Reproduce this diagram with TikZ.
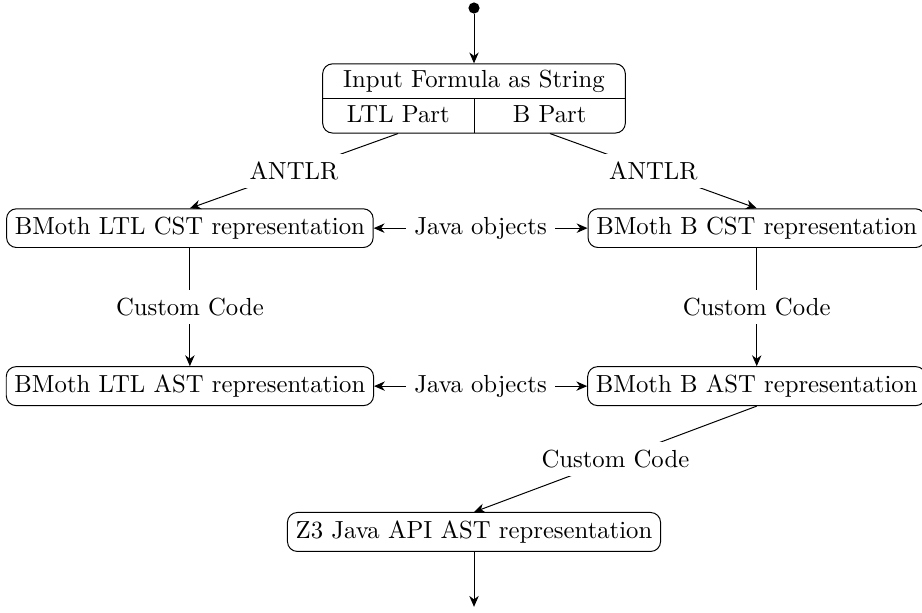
\documentclass[tikz,border=0pt]{standalone}
\usepackage{tikz}
\usetikzlibrary{arrows.meta,shapes,positioning}

\begin{document}
\begin{tikzpicture}[node distance=1.5cm,>={Stealth[length=4.4pt,width=3.8pt,inset=1.4pt]}]
  \tikzstyle{repr}=[rectangle,rounded corners,draw=black]
  \tikzstyle{conv}=[fill=white]

  \useasboundingbox (-6.74,0.114) rectangle (6.37,-8.59);

  % Entry point and input.
  \node [circle,fill=black,inner sep=1.6pt] (start) {};
  \node [repr,inner sep=0pt] (input) [below=0.70cm of start]
    {\renewcommand{\arraystretch}{1.15}%
     \begin{tabular}{c|c}
       \multicolumn{2}{c}{Input Formula as String}\\ \hline
       \makebox[1.73cm]{LTL Part} & \makebox[1.73cm]{B Part}
     \end{tabular}};
  \coordinate (ltlpart) at ([xshift=-1.08cm]input.south);
  \coordinate (bpart) at ([xshift=1.08cm]input.south);

  % LTL side.
  \node [repr] (ltlcst) at (-4.04,-3.13) {BMoth LTL CST representation};
  \node [repr] (ltlast) [below=1.68cm of ltlcst] {BMoth LTL AST representation};

  % B side.
  \node [repr] (bcst) at (4.02,-3.13) {BMoth B CST representation};
  \node [repr] (bast) [below=1.68cm of bcst] {BMoth B AST representation};

  % Solver.
  \node [repr] (z3) at (0,-7.45) {Z3 Java API AST representation};
  \coordinate [below=0.78cm of z3] (stop);

  \draw [->] (start) -- (input);
  \path (ltlpart) edge [->] node [conv] {ANTLR} (ltlcst.north);
  \path (bpart) edge [->] node [conv] {ANTLR} (bcst.north);
  \path (ltlcst) edge [<->] node [conv] {Java objects} (bcst);
  \path (ltlcst) edge [->] node [conv] {Custom Code} (ltlast);
  \path (bcst) edge [->] node [conv] {Custom Code} (bast);
  \path (ltlast) edge [<->] node [conv] {Java objects} (bast);
  \path (bast.south) edge [->] node [conv] {Custom Code} (z3.north);
  \draw [->] (z3) -- (stop);
\end{tikzpicture}
\end{document}
